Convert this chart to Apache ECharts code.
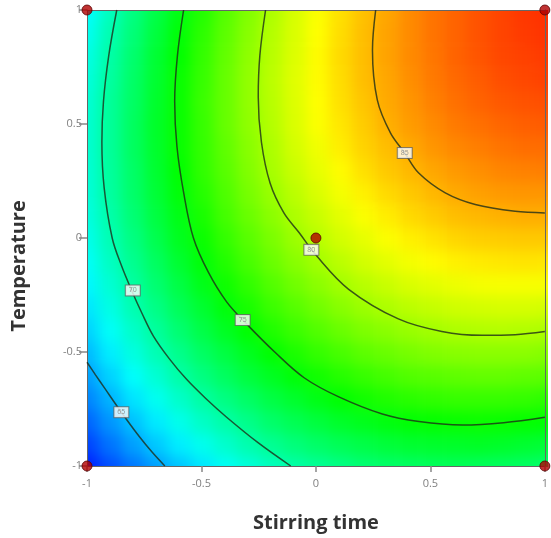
<!DOCTYPE html>
<html>
<head>
<meta charset="utf-8">
<script src="https://cdn.jsdelivr.net/npm/echarts@6/dist/echarts.min.js"></script>
<style>
html,body{margin:0;padding:0;background:#fff;}
#wrap{position:relative;width:551px;height:538px;}
#fieldClip{position:absolute;left:87px;top:10px;width:461px;height:457px;overflow:hidden;}
#field{position:absolute;left:-40px;top:-40px;width:541px;height:537px;filter:blur(7px);}
#chart{position:absolute;left:0;top:0;width:551px;height:538px;}
</style>
</head>
<body>
<div id="wrap">
  <div id="fieldClip"><div id="field"></div></div>
  <div id="chart"></div>
</div>
<script>
// Coded factor levels of the sampled response grid
const xLevels = [-1,-0.9,-0.8,-0.7,-0.6,-0.5,-0.4,-0.3,-0.2,-0.1,0,0.1,0.2,0.3,0.4,0.5,0.6,0.7,0.8,0.9,1];
const yLevels = [-1,-0.9,-0.8,-0.7,-0.6,-0.5,-0.4,-0.3,-0.2,-0.1,0,0.1,0.2,0.3,0.4,0.5,0.6,0.7,0.8,0.9,1];
// Response values; one row per Temperature level (bottom to top)
const responseRows = [
  [60.9,62.3,63.5,64.7,65.8,66.8,67.8,68.6,69.4,70.1,70.6,71.1,71.6,71.9,72.1,72.3,72.4,72.3,72.2,72.1,71.8],
  [62.0,63.4,64.7,65.9,67.0,68.0,69.0,69.9,70.7,71.4,72.0,72.5,72.9,73.3,73.6,73.7,73.8,73.9,73.8,73.6,73.4],
  [63.0,64.4,65.7,66.9,68.1,69.2,70.1,71.0,71.9,72.6,73.2,73.8,74.2,74.6,74.9,75.1,75.2,75.3,75.2,75.1,74.9],
  [63.9,65.3,66.7,67.9,69.1,70.2,71.2,72.1,73.0,73.7,74.4,75.0,75.5,75.9,76.2,76.4,76.6,76.6,76.6,76.5,76.3],
  [64.7,66.2,67.6,68.8,70.1,71.2,72.2,73.2,74.0,74.8,75.5,76.1,76.6,77.0,77.4,77.6,77.8,77.9,77.9,77.8,77.7],
  [65.5,67.0,68.4,69.7,70.9,72.1,73.1,74.1,75.0,75.8,76.5,77.1,77.7,78.1,78.5,78.8,79.0,79.1,79.1,79.1,78.9],
  [66.2,67.7,69.1,70.4,71.7,72.9,74.0,75.0,75.9,76.7,77.4,78.1,78.7,79.1,79.5,79.8,80.1,80.2,80.3,80.2,80.1],
  [66.8,68.3,69.8,71.1,72.4,73.6,74.7,75.7,76.7,77.5,78.3,79.0,79.6,80.1,80.5,80.8,81.1,81.2,81.3,81.3,81.2],
  [67.3,68.8,70.3,71.7,73.0,74.3,75.4,76.4,77.4,78.3,79.1,79.8,80.4,80.9,81.4,81.7,82.0,82.2,82.3,82.3,82.3],
  [67.7,69.3,70.8,72.2,73.6,74.8,76.0,77.1,78.1,79.0,79.8,80.5,81.2,81.7,82.2,82.6,82.9,83.1,83.2,83.3,83.2],
  [68.1,69.7,71.2,72.7,74.1,75.3,76.5,77.6,78.6,79.6,80.4,81.2,81.8,82.4,82.9,83.3,83.7,83.9,84.0,84.1,84.1],
  [68.4,70.0,71.6,73.1,74.4,75.7,77.0,78.1,79.1,80.1,80.9,81.7,82.4,83.0,83.6,84.0,84.4,84.6,84.8,84.9,84.9],
  [68.6,70.3,71.9,73.4,74.8,76.1,77.3,78.5,79.5,80.5,81.4,82.2,82.9,83.6,84.1,84.6,85.0,85.3,85.5,85.6,85.6],
  [68.7,70.4,72.0,73.6,75.0,76.4,77.6,78.8,79.9,80.9,81.8,82.6,83.4,84.1,84.6,85.1,85.5,85.8,86.1,86.2,86.3],
  [68.8,70.5,72.2,73.7,75.2,76.5,77.8,79.0,80.1,81.2,82.1,83.0,83.8,84.4,85.0,85.6,86.0,86.3,86.6,86.8,86.8],
  [68.8,70.5,72.2,73.8,75.2,76.6,78.0,79.2,80.3,81.4,82.4,83.2,84.0,84.8,85.4,85.9,86.4,86.7,87.0,87.2,87.3],
  [68.7,70.5,72.1,73.7,75.2,76.7,78.0,79.3,80.4,81.5,82.5,83.4,84.2,85.0,85.6,86.2,86.7,87.1,87.4,87.6,87.7],
  [68.5,70.3,72.0,73.6,75.2,76.6,78.0,79.3,80.5,81.6,82.6,83.5,84.4,85.1,85.8,86.4,86.9,87.3,87.7,87.9,88.1],
  [68.3,70.1,71.8,73.5,75.0,76.5,77.9,79.2,80.4,81.5,82.6,83.6,84.4,85.2,85.9,86.5,87.1,87.5,87.9,88.1,88.3],
  [67.9,69.8,71.5,73.2,74.8,76.3,77.7,79.0,80.3,81.4,82.5,83.5,84.4,85.2,85.9,86.6,87.1,87.6,88.0,88.3,88.5],
  [67.5,69.4,71.2,72.9,74.5,76.0,77.5,78.8,80.1,81.3,82.4,83.4,84.3,85.1,85.9,86.6,87.1,87.6,88.0,88.4,88.6]
];
// Contour lines: [Stirring time, Temperature]
const contourLevels = [65, 70, 75, 80, 85];
const contour65 = [[-1,-0.545],[-0.963,-0.6],[-0.926,-0.654],[-0.85,-0.764],[-0.77,-0.873],[-0.715,-0.94],[-0.66,-1]];
const contour70 = [[-0.87,1],[-0.905,0.8],[-0.928,0.6],[-0.935,0.42],[-0.925,0.22],[-0.89,0],[-0.85,-0.12],[-0.805,-0.23],[-0.76,-0.33],[-0.71,-0.43],[-0.64,-0.53],[-0.565,-0.62],[-0.48,-0.705],[-0.39,-0.786],[-0.25,-0.9],[-0.11,-1]];
const contour75 = [[-0.578,1],[-0.605,0.8],[-0.617,0.6],[-0.607,0.4],[-0.578,0.2],[-0.535,0],[-0.47,-0.15],[-0.39,-0.28],[-0.3,-0.38],[-0.18,-0.5],[-0.05,-0.614],[0.1,-0.697],[0.29,-0.772],[0.45,-0.805],[0.64,-0.82],[0.82,-0.81],[1,-0.786]];
const contour80 = [[-0.22,1],[-0.245,0.8],[-0.252,0.62],[-0.238,0.42],[-0.2,0.24],[-0.14,0.11],[-0.073,0.023],[0,-0.075],[0.143,-0.225],[0.36,-0.355],[0.55,-0.41],[0.726,-0.427],[0.87,-0.424],[1,-0.41]];
const contour85 = [[0.261,1],[0.247,0.825],[0.268,0.606],[0.326,0.46],[0.388,0.373],[0.449,0.285],[0.565,0.198],[0.696,0.147],[0.87,0.117],[1,0.11]];
const contourLabelPoints = [[-0.85,-0.764],[-0.8,-0.23],[-0.32,-0.36],[-0.02,-0.052],[0.388,0.373]];
// Design points
const designPoints = [[-1,-1],[-1,1],[1,1],[1,-1],[0,0]];
// Axis ticks
const axisTicks = [-1,-0.5,0,0.5,1];
// Colour scale range
const colorMin = 60, colorMax = 90;

const gridData = [];
yLevels.forEach((y, i) => xLevels.forEach((x, j) => gridData.push([x, y, responseRows[i][j]])));
const cellHalf = (xLevels[1] - xLevels[0]) / 2;
const edgePad = 0.25; // edge cells are drawn wider so the soft-shading reaches the frame
const xFirst = xLevels[0], xLast = xLevels[xLevels.length - 1];
const yFirst = yLevels[0], yLast = yLevels[yLevels.length - 1];
const contours = [contour65, contour70, contour75, contour80, contour85];

// ---- colour field (soft-shaded layer) ----
const field = echarts.init(document.getElementById('field'), null, {renderer: 'canvas'});
field.setOption({
  animation: false,
  grid: {left: 40, right: 40, top: 40, bottom: 40},
  xAxis: {type: 'value', min: axisTicks[0], max: axisTicks[axisTicks.length - 1], show: false},
  yAxis: {type: 'value', min: axisTicks[0], max: axisTicks[axisTicks.length - 1], show: false},
  visualMap: {
    type: 'continuous', show: false, seriesIndex: 0, dimension: 2,
    min: colorMin, max: colorMax,
    inRange: {color: ['#0000ff', '#00ffff', '#00ff00', '#ffff00', '#ff0000']}
  },
  series: [{
    type: 'custom',
    data: gridData,
    encode: {x: 0, y: 1},
    clip: false,
    silent: true,
    renderItem: function (params, api) {
      const x = api.value(0), y = api.value(1);
      const x0 = x - cellHalf - (x === xFirst ? edgePad : 0);
      const x1 = x + cellHalf + (x === xLast ? edgePad : 0);
      const y0 = y - cellHalf - (y === yFirst ? edgePad : 0);
      const y1 = y + cellHalf + (y === yLast ? edgePad : 0);
      const p0 = api.coord([x0, y1]);
      const p1 = api.coord([x1, y0]);
      return {
        type: 'rect',
        shape: {x: p0[0], y: p0[1], width: p1[0] - p0[0] + 0.6, height: p1[1] - p0[1] + 0.6},
        style: {fill: api.visual('color')}
      };
    }
  }]
});

// ---- axes, contours and design points ----
const chart = echarts.init(document.getElementById('chart'), null, {renderer: 'canvas'});
const tickLabel = {color: '#808080', fontSize: 11, fontFamily: 'Open Sans'};
const titleStyle = {color: '#333', fontSize: 20, fontWeight: 'bold', fontFamily: 'Open Sans'};

const series = [];
contours.forEach((c, k) => series.push({
  type: 'line',
  name: 'R = ' + contourLevels[k],
  data: c,
  smooth: 0.35,
  symbol: 'none',
  clip: true,
  z: 3,
  lineStyle: {color: 'rgba(30,45,25,0.8)', width: 1.5}
}));
series.push({
  type: 'scatter',
  data: contourLabelPoints.map((p, k) => [p[0], p[1], contourLevels[k]]),
  symbolSize: 1,
  itemStyle: {color: 'rgba(0,0,0,0)'},
  z: 4,
  label: {
    show: true, position: 'inside',
    formatter: p => String(p.value[2]),
    fontSize: 7, color: '#777', fontFamily: 'Open Sans',
    backgroundColor: '#fff', borderColor: '#666', borderWidth: 1,
    padding: [2, 3, 1, 3]
  }
});
series.push({
  type: 'scatter',
  data: designPoints,
  symbolSize: 10,
  clip: false,
  z: 5,
  itemStyle: {color: '#b00000', borderColor: '#5a0000', borderWidth: 1}
});

const frameAxis = {
  type: 'value', min: -1, max: 1,
  axisLine: {show: true, onZero: false, lineStyle: {color: '#666'}},
  axisTick: {show: false}, axisLabel: {show: false}, splitLine: {show: false}
};

chart.setOption({
  animation: false,
  backgroundColor: 'transparent',
  grid: {left: 87, right: 3, top: 10, bottom: 71},
  xAxis: [{
    type: 'value', min: axisTicks[0], max: axisTicks[axisTicks.length - 1], interval: 0.5,
    name: 'Stirring time', nameLocation: 'middle', nameGap: 47, nameTextStyle: titleStyle,
    axisLine: {show: true, onZero: false, lineStyle: {color: '#666'}},
    axisTick: {show: true, length: 6, lineStyle: {color: '#888', width: 1.5}},
    axisLabel: Object.assign({margin: 12}, tickLabel),
    splitLine: {show: false}
  }, Object.assign({position: 'top'}, frameAxis)],
  yAxis: [{
    type: 'value', min: axisTicks[0], max: axisTicks[axisTicks.length - 1], interval: 0.5,
    name: 'Temperature', nameLocation: 'middle', nameGap: 58,
    nameTextStyle: Object.assign({padding: [0, 56, 0, 0]}, titleStyle),
    axisLine: {show: true, onZero: false, lineStyle: {color: '#666'}},
    axisTick: {show: true, length: 8, lineStyle: {color: '#888', width: 1.5}},
    axisLabel: Object.assign({margin: 5}, tickLabel),
    splitLine: {show: false}
  }, Object.assign({position: 'right'}, frameAxis)],
  series: series
});
</script>
</body>
</html>
